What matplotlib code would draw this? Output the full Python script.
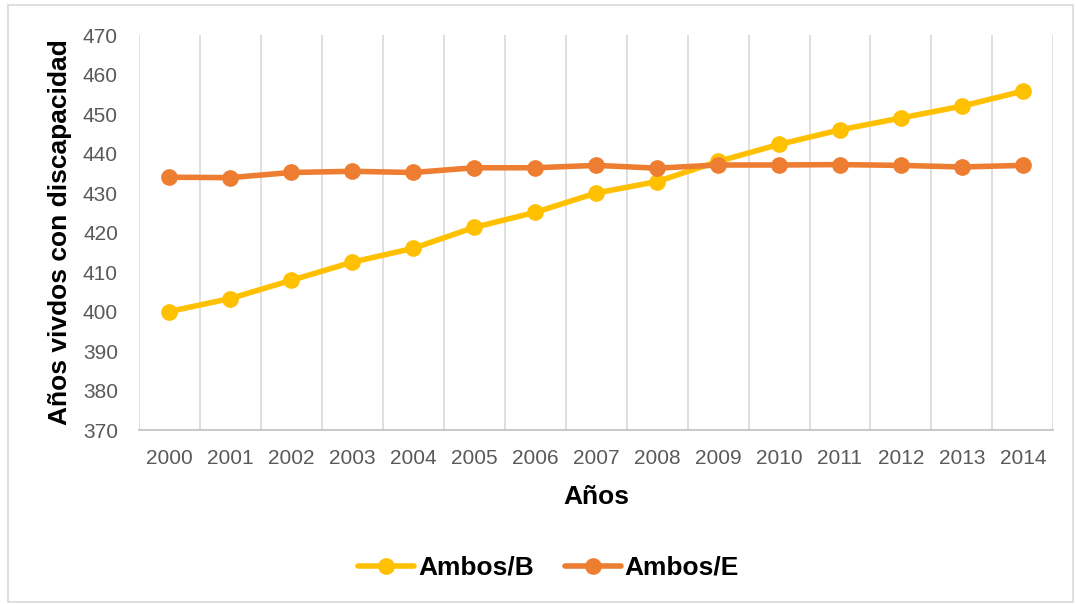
import matplotlib.pyplot as plt
import numpy as np
from matplotlib.patches import Rectangle

years = ['2000', '2001', '2002', '2003', '2004', '2005', '2006', '2007',
         '2008', '2009', '2010', '2011', '2012', '2013', '2014']
ambos_b = [400.0, 403.3, 407.9, 412.5, 416.0, 421.3, 425.1, 430.0,
           432.9, 438.0, 442.3, 446.0, 449.0, 452.0, 455.8]
ambos_e = [434.0, 433.9, 435.2, 435.5, 435.2, 436.4, 436.4, 437.0,
           436.3, 437.1, 437.1, 437.2, 437.0, 436.6, 437.0]

fig = plt.figure(figsize=(10.76, 6.04), dpi=100)
ax = fig.add_axes([0.129, 0.288, 0.850, 0.654])

# light border round the whole chart
fig.patches.append(Rectangle((0.007, 0.004), 0.99, 0.988, transform=fig.transFigure,
                             fill=False, edgecolor='#d9d9d9', linewidth=1.2))

x = np.arange(len(years))
ax.plot(x, ambos_b, color='#FFC000', linewidth=4, marker='o', markersize=11,
        label='Ambos/B', solid_capstyle='round')
ax.plot(x, ambos_e, color='#ED7D31', linewidth=4, marker='o', markersize=11,
        label='Ambos/E', solid_capstyle='round')

ax.set_xlim(-0.5, len(years) - 0.5)
ax.set_ylim(370, 470)
ax.set_yticks(np.arange(370, 471, 10))
ax.set_xticks(x)
ax.set_xticklabels(years)

# vertical gridlines on category boundaries (Excel style)
for b in np.arange(-0.5, len(years), 1.0):
    ax.axvline(b, color='#d9d9d9', linewidth=1.2, zorder=0)

for s in ['top', 'right', 'left']:
    ax.spines[s].set_visible(False)
ax.spines['bottom'].set_color('#bfbfbf')
ax.spines['bottom'].set_linewidth(1.2)

ax.tick_params(axis='y', length=0, labelsize=15, labelcolor='#595959', pad=15)
ax.tick_params(axis='x', length=0, labelsize=15, labelcolor='#595959', pad=14)
for lab in ax.get_xticklabels() + ax.get_yticklabels():
    lab.set_family('Liberation Sans')

ax.set_xlabel('Años', fontsize=19, fontweight='bold', family='Liberation Sans', labelpad=12)
ax.set_ylabel('Años vivdos con discapacidad', fontsize=19, fontweight='bold',
              family='Liberation Sans', labelpad=8)

leg = fig.legend(loc='center', bbox_to_anchor=(0.51, 0.06), ncol=2, frameon=False,
                 prop={'family': 'Liberation Sans', 'weight': 'bold', 'size': 19},
                 handlelength=2.1, columnspacing=1.2, handletextpad=0.15)

fig.savefig('out.png', dpi=100)
